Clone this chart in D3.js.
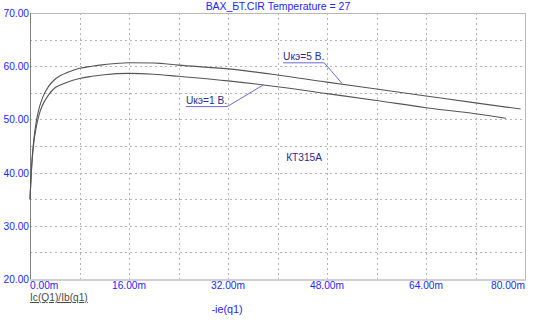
<!DOCTYPE html>
<html>
<head>
<meta charset="utf-8" />
<script src="https://cdn.jsdelivr.net/npm/d3@7"></script>
<style>
  body { margin: 0; background: #fff; }
  text { font-family: Arial, "Liberation Sans", sans-serif; }
</style>
</head>
<body>
<script>
// -ie(q1), mA
var ie5 = [0, 0.3, 0.6, 1, 1.5, 2, 3, 4, 5, 6, 8, 10, 12, 16, 20, 24, 32, 40, 48, 56, 64, 72, 79.3];
// Ic/Ib at Uкэ = 5 В
var beta5 = [35, 42, 46, 49.5, 52.2, 54, 56.2, 57.5, 58.3, 58.8, 59.6, 60.0, 60.3, 60.65, 60.6, 60.2, 59.5, 58.35, 57.0, 55.7, 54.4, 53.1, 51.95];
var ie1 = [0, 0.3, 0.6, 1, 1.5, 2, 3, 4, 5, 6, 8, 10, 12, 16, 20, 24, 32, 40, 48, 56, 64, 72, 76.9];
// Ic/Ib at Uкэ = 1 В
var beta1 = [35, 41.5, 45.5, 48.5, 51, 52.6, 54.6, 55.9, 56.5, 57, 57.7, 58.1, 58.4, 58.65, 58.5, 58.1, 57.25, 56.15, 54.85, 53.55, 52.2, 51.05, 50.2];

var xGrid = [0, 8, 16, 24, 32, 40, 48, 56, 64, 72, 80];
var xTicks = [0, 16, 32, 48, 64, 80];
var yGrid = [20, 25, 30, 35, 40, 45, 50, 55, 60, 65, 70];
var yTicks = [20, 30, 40, 50, 60, 70];

// labels: text, text x, underline y, leader end x, leader end y (data units)
var notes = [
  ["Uкэ=5 В.", 40.9, 60.73, 50.4, 56.8],
  ["Uкэ=1 В.", 25.2, 52.5, 37.7, 56.47]
];

var w = 553, h = 321;
var svg = d3.select("body").append("svg").attr("width", w).attr("height", h);

var x = d3.scaleLinear().domain([0, 80]).range([30, 525]);
var y = d3.scaleLinear().domain([20, 70]).range([279, 13]);

var blue = "#2525ff";

// grid
svg.selectAll(".gx").data(xGrid.slice(1, -1)).enter().append("line")
  .attr("x1", function(d) { return Math.round(x(d)) + 0.5; }).attr("x2", function(d) { return Math.round(x(d)) + 0.5; })
  .attr("y1", y(70)).attr("y2", y(20))
  .attr("stroke", "#b4b4b4").attr("stroke-dasharray", "2,3");
svg.selectAll(".gy").data(yGrid.slice(1, -1)).enter().append("line")
  .attr("y1", function(d) { return Math.round(y(d)) + 0.5; }).attr("y2", function(d) { return Math.round(y(d)) + 0.5; })
  .attr("x1", x(0)).attr("x2", x(80))
  .attr("stroke", "#b4b4b4").attr("stroke-dasharray", "2,3");

// frame
svg.append("rect").attr("x", x(0) + 0.5).attr("y", y(70) + 0.5)
  .attr("width", x(80) - x(0)).attr("height", y(20) - y(70))
  .attr("fill", "none").attr("stroke", "#b8b8b8");
svg.append("line").attr("x1", x(0) + 0.5).attr("x2", x(0) + 0.5).attr("y1", y(70)).attr("y2", y(20) + 1)
  .attr("stroke", "#808080");
svg.append("line").attr("x1", x(0)).attr("x2", x(80) + 1).attr("y1", y(20) + 1).attr("y2", y(20) + 1)
  .attr("stroke", "#d0d0d0").attr("stroke-width", 2);

// y labels
svg.selectAll(".yl").data(yTicks).enter().append("text")
  .attr("x", 29).attr("y", function(d) { return y(d) + 4; })
  .attr("text-anchor", "end").attr("font-size", 10.2).attr("fill", blue)
  .text(function(d) { return d.toFixed(2); });

// x labels
svg.selectAll(".xl").data(xTicks).enter().append("text")
  .attr("x", function(d) { return x(d); }).attr("y", 289)
  .attr("text-anchor", function(d) { return d === 0 ? "start" : d === 80 ? "end" : "middle"; })
  .attr("font-size", 10.2).attr("fill", blue)
  .text(function(d) { return d.toFixed(2) + "m"; });

// curves
var line = d3.line().x(function(d) { return x(d[0]); }).y(function(d) { return y(d[1]); }).curve(d3.curveMonotoneX);
[[ie5, beta5], [ie1, beta1]].forEach(function(s) {
  svg.append("path").datum(d3.zip(s[0], s[1])).attr("d", line)
    .attr("fill", "none").attr("stroke", "#555").attr("stroke-width", 1.1);
});

// annotations
notes.forEach(function(n) {
  var t = svg.append("text").attr("x", x(n[1])).attr("y", y(n[2]) - 2.5)
    .attr("font-size", 10.2).attr("fill", "#2b2b8f").text(n[0]);
  var tw = t.node().getComputedTextLength();
  svg.append("polyline")
    .attr("points", [[x(n[1]), y(n[2]) + 0.5], [x(n[1]) + tw, y(n[2]) + 0.5], [x(n[3]), y(n[4])]].join(" "))
    .attr("fill", "none").attr("stroke", "#6a6ad8").attr("stroke-width", 1);
});

svg.append("text").attr("x", x(44.3)).attr("y", y(43) + 4)
  .attr("text-anchor", "middle").attr("font-size", 10.2).attr("fill", "#2b2b8f").text("КТ315А");

// title and axis names
svg.append("text").attr("x", 278).attr("y", 9.5)
  .attr("text-anchor", "middle").attr("font-size", 10.5).attr("fill", blue)
  .text("ВАХ_БТ.CIR Temperature = 27");
svg.append("text").attr("x", 227).attr("y", 312.5)
  .attr("text-anchor", "middle").attr("font-size", 10.8).attr("fill", blue).text("-ie(q1)");
svg.append("text").attr("x", 30).attr("y", 301)
  .attr("font-size", 10.2).attr("fill", "#4a4a4a").attr("text-decoration", "underline")
  .text("Ic(Q1)/Ib(q1)");
</script>
</body>
</html>
